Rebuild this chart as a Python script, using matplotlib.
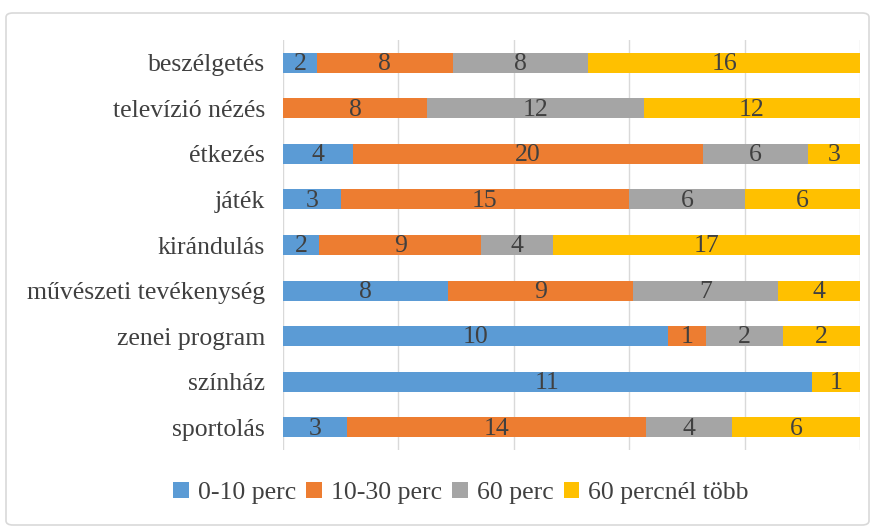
import numpy as np
import matplotlib.pyplot as plt
from matplotlib.patches import FancyBboxPatch

# --- Datos ---
categorias = ["beszélgetés", "televízió nézés", "étkezés", "játék", "kirándulás",
              "művészeti tevékenység", "zenei program", "színház", "sportolás"]
series = ["0-10 perc", "10-30 perc", "60 perc", "60 percnél több"]
v_0_10 = [2, 0, 4, 3, 2, 8, 10, 11, 3]
v_10_30 = [8, 8, 20, 15, 9, 9, 1, 0, 14]
v_60 = [8, 12, 6, 6, 4, 7, 2, 0, 4]
v_60_plus = [16, 12, 3, 6, 17, 4, 2, 1, 6]
colores = ["#5B9BD5", "#ED7D31", "#A5A5A5", "#FFC000"]

plt.rcParams['font.family'] = ['Liberation Serif', 'DejaVu Serif']
tam = 18.5

datos = np.array([v_0_10, v_10_30, v_60, v_60_plus], dtype=float)
totales = datos.sum(axis=0)
pct = datos / totales * 100

fig = plt.figure(figsize=(8.73, 5.32), dpi=100)
ax = fig.add_axes([283 / 873, 1 - 450 / 532, (860 - 283) / 873, 410 / 532])

y = np.arange(len(categorias))
izq = np.zeros(len(categorias))
for i, nombre in enumerate(series):
    ax.barh(y, pct[i], left=izq, height=0.44, color=colores[i], label=nombre, zorder=2)
    for j in range(len(categorias)):
        if datos[i, j] > 0:
            ax.text(izq[j] + pct[i, j] / 2, y[j] + 0.03, f"{int(datos[i, j])}",
                    ha='center', va='center', fontsize=tam, color='#404040', zorder=3)
    izq += pct[i]

ax.set_xlim(0, 100)
ax.set_ylim(len(categorias) - 0.5, -0.5)
ax.set_xticks([0, 20, 40, 60, 80, 100])
ax.set_xticklabels([])
ax.xaxis.grid(True, color='#D9D9D9', linewidth=1, zorder=0)
ax.tick_params(axis='both', length=0)
ax.set_yticks(y)
ax.set_yticklabels(categorias, fontsize=tam, color='#404040')
ax.tick_params(axis='y', pad=13)
for s in ax.spines.values():
    s.set_visible(False)

fig.legend(loc='center', bbox_to_anchor=(461 / 873, 1 - 493 / 532), ncol=4, frameon=False,
           fontsize=tam, handlelength=0.6, handleheight=0.6, handletextpad=0.35,
           columnspacing=0.4, labelcolor='#404040')

borde = FancyBboxPatch((6 / 873, 1 - 525 / 532), 863 / 873, 512 / 532,
                       boxstyle="round,pad=0,rounding_size=0.008",
                       transform=fig.transFigure, fill=False, edgecolor='#D9D9D9', linewidth=1.2)
fig.patches.append(borde)

fig.savefig("out.png", dpi=100)
